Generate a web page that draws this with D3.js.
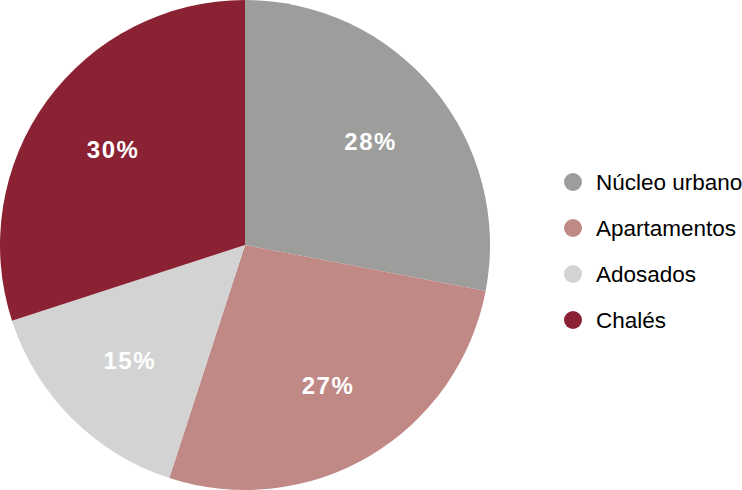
<!DOCTYPE html>
<html><head><meta charset="utf-8">
<script src="https://cdn.jsdelivr.net/npm/d3@7"></script>
<style>body{margin:0;background:#fff}svg{display:block}</style>
</head><body>
<script>
const categories = ["Núcleo urbano", "Apartamentos", "Adosados", "Chalés"];
const values = [28, 27, 15, 30];
const labels = ["28%", "27%", "15%", "30%"];
const colors = ["#9d9d9c", "#c08986", "#d3d3d3", "#8b2233"];

const W = 742, H = 490;
const svg = d3.select("body").append("svg").attr("width", W).attr("height", H);
const cx = 245, cy = 245, R = 245;
const data = categories.map((c, i) => ({c, v: values[i], l: labels[i], col: colors[i]}));
const pie = d3.pie().value(d => d.v).sort(null);
const arcs = pie(data);
const arc = d3.arc().innerRadius(0).outerRadius(R);
const labelArc = d3.arc().innerRadius(163).outerRadius(163);
const g = svg.append("g").attr("transform", `translate(${cx},${cy})`);
g.selectAll("path").data(arcs).join("path").attr("d", arc).attr("fill", d => d.data.col);
g.selectAll("text").data(arcs).join("text")
  .attr("transform", d => `translate(${labelArc.centroid(d)})`)
  .attr("text-anchor", "middle").attr("dy", "0.36em")
  .attr("font-family", "Liberation Sans, Arial, sans-serif")
  .attr("font-weight", "bold").attr("font-size", 24).attr("letter-spacing", 1.5)
  .attr("fill", "#fff").text(d => d.data.l);

const leg = svg.append("g");
const ly = d3.scalePoint().domain(categories).range([182, 320]);
const items = leg.selectAll("g").data(data).join("g").attr("transform", d => `translate(573,${ly(d.c)})`);
items.append("circle").attr("r", 9).attr("fill", d => d.col);
items.append("text").attr("x", 23).attr("dy", "0.36em")
  .attr("font-family", "Liberation Sans, Arial, sans-serif").attr("font-size", 22.5)
  .attr("fill", "#000").text(d => d.c);
</script>
</body></html>
